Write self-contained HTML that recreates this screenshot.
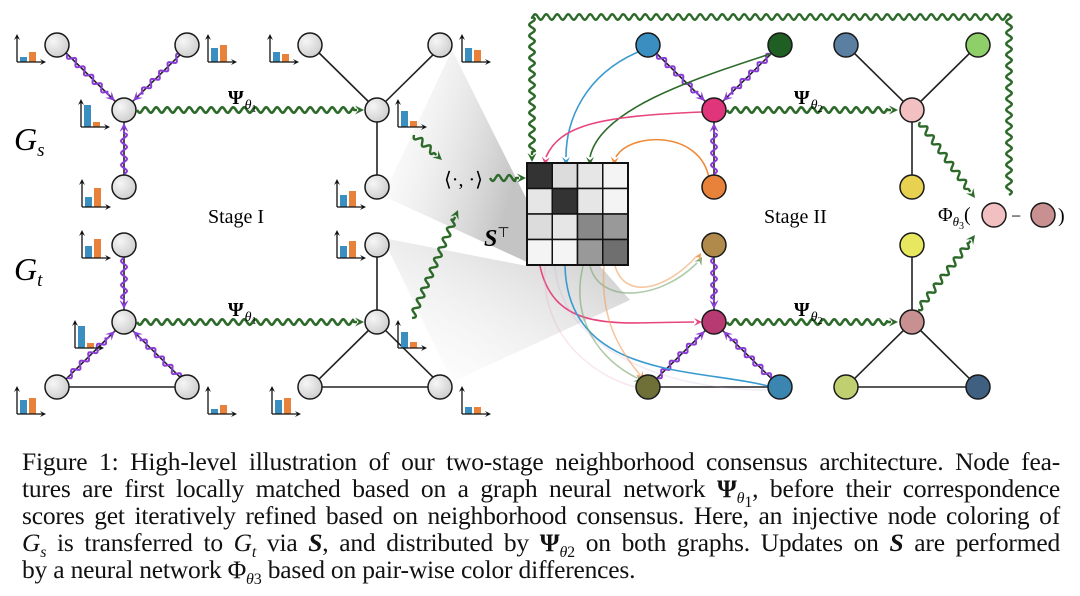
<!DOCTYPE html>
<html><head><meta charset="utf-8"><style>
html,body{margin:0;padding:0;background:#fff;}
#wrap{position:relative;width:1080px;height:596px;overflow:hidden;}
svg{position:absolute;left:0;top:0;}
.cap{position:absolute;left:22px;width:1038px;font-family:"Liberation Serif",serif;font-size:25.5px;line-height:27px;white-space:nowrap;color:#111;letter-spacing:-0.2px;}
.j{text-align:justify;text-align-last:justify;}
.cap i{font-style:italic;}
.cap b{font-weight:bold;font-style:italic;}
sub{font-size:16px;line-height:0;}
</style></head><body><div id="wrap">
<svg id="s" width="1080" height="430" viewBox="0 0 1080 430" xmlns="http://www.w3.org/2000/svg" font-family="Liberation Serif, serif">
<defs>
<radialGradient id="gn" cx="0.35" cy="0.35" r="0.8"><stop offset="0" stop-color="#f6f6f6"/><stop offset="1" stop-color="#c8c8c8"/></radialGradient>
<linearGradient id="w1" x1="0" y1="0" x2="1" y2="0.4"><stop offset="0" stop-color="#fff" stop-opacity="0.2"/><stop offset="1" stop-color="#c4c4c4"/></linearGradient>
<linearGradient id="w2" x1="0" y1="1" x2="1" y2="0"><stop offset="0" stop-color="#fff" stop-opacity="0.2"/><stop offset="1" stop-color="#c4c4c4"/></linearGradient>
</defs>
<polygon points="452,50 383,196 527,262 527,200" fill="url(#w1)"/>
<polygon points="383,238 452,382 630,300 600,266 527,266" fill="url(#w2)"/>
<g id="g"></g>
</svg>
<div class="cap j" style="top:448px">Figure 1: High-level illustration of our two-stage neighborhood consensus architecture. Node fea-</div>
<div class="cap j" style="top:475px">tures are first locally matched based on a graph neural network <b style="font-style:normal">Ψ</b><sub><i>θ</i><sub>1</sub></sub>, before their correspondence</div>
<div class="cap j" style="top:502px">scores get iteratively refined based on neighborhood consensus. Here, an injective node coloring of</div>
<div class="cap j" style="top:529px"><i>G<sub>s</sub></i> is transferred to <i>G<sub>t</sub></i> via <b>S</b>, and distributed by <b style="font-style:normal">Ψ</b><sub><i>θ</i>2</sub> on both graphs. Updates on <b>S</b> are performed</div>
<div class="cap" style="top:556px">by a neural network Φ<sub><i>θ</i>3</sub> based on pair-wise color differences.</div>
</div>
<script>
var G=document.getElementById('g'),h='';
function L(a,b,c,d,col,w){h+=`<line x1="${a}" y1="${b}" x2="${c}" y2="${d}" stroke="${col||'#222'}" stroke-width="${w||1.6}"/>`;}
function head(x,y,dx,dy,col,s){var n=Math.hypot(dx,dy);dx/=n;dy/=n;var px=-dy,py=dx;
h+=`<polygon points="${x},${y} ${x-dx*s+px*s*0.5},${y-dy*s+py*s*0.5} ${x-dx*s*0.6},${y-dy*s*0.6} ${x-dx*s-px*s*0.5},${y-dy*s-py*s*0.5}" fill="${col}"/>`;}
function wave(pts,col,w,amp,per){var d='',segs=[];for(var i=0;i<pts.length-1;i++){var a=pts[i],b=pts[i+1];var l=Math.hypot(b[0]-a[0],b[1]-a[1]);segs.push([a,b,l]);}
var acc=0,first=true;segs.forEach(function(sg,k){var a=sg[0],b=sg[1],l=sg[2];var ux=(b[0]-a[0])/l,uy=(b[1]-a[1])/l;var end=(k==segs.length-1)?l-7:l;
for(var t=0;t<=end;t+=1){var s=acc+t;var o=(k==segs.length-1&&t>end-4)?0:amp*Math.sin(2*Math.PI*s/per);var x=a[0]+ux*t-uy*o,y=a[1]+uy*t+ux*o;d+=(first?'M':'L')+x.toFixed(1)+','+y.toFixed(1);first=false;}acc+=l;});
h+=`<path d="${d}" fill="none" stroke="${col}" stroke-width="${w}" stroke-linejoin="round"/>`;var a=pts[pts.length-2],b=pts[pts.length-1];head(b[0],b[1],b[0]-a[0],b[1]-a[1],col,9);}
function wv(x1,y1,x2,y2,col,w){var dx=x2-x1,dy=y2-y1,n=Math.hypot(dx,dy);wave([[x1+dx/n*13,y1+dy/n*13],[x2-dx/n*13,y2-dy/n*13]],col,w,3,12);}
function N(x,y,f){h+=`<circle cx="${x}" cy="${y}" r="12" fill="${f||'url(#gn)'}" stroke="#1a1a1a" stroke-width="1.5"/>`;}
function bars(x,y,b,o){h+=`<rect x="${x+3}" y="${y-b}" width="7" height="${b}" fill="#3a8fc0"/><rect x="${x+12}" y="${y-o}" width="7" height="${o}" fill="#e8823a"/>`;
L(x,y,x+27,y,'#111',1.3);L(x,y,x,y-26,'#111',1.3);head(x+29,y,1,0,'#111',6);head(x,y-28,0,-1,'#111',6);}
function graph(cx){L(cx-66,45,cx,110);L(cx+66,45,cx,110);L(cx,110,cx,187);L(cx,245,cx,322);L(cx,322,cx-66,387);L(cx,322,cx+66,387);L(cx-66,387,cx+66,387);}
var P='#8a3cd6',GR='#2d6a2a';
[124,377,714,912].forEach(function(c){graph(c);});
[124,714].forEach(function(c){wv(c-66,45,c,110,P,2);wv(c+66,45,c,110,P,2);wv(c,187,c,110,P,2);wv(c,245,c,322,P,2);wv(c-66,387,c,322,P,2);wv(c+66,387,c,322,P,2);});
function cv(d,col,op,hx,hy,dx,dy){h+=`<path d="${d}" fill="none" stroke="${col}" stroke-width="1.6" opacity="${op||1}"/>`;if(hx)head(hx,hy,dx,dy,col,8);}
cv('M638,52 C585,75 566,120 566,157','#3a9ad0',1,566,165,0,1);
cv('M770,54 C690,80 600,110 590,157','#2d6a2a',1,590,165,0,1);
cv('M702,112 C600,116 560,125 546,157','#e8457f',1,545,165,-0.1,1);
cv('M709,178 C700,130 630,132 616,157','#ee8a3a',1,614,165,-0.1,1);
cv('M540,266 C555,335 620,322 694,322','#e8457f',1,702,322,1,0);
cv('M565,266 C568,380 700,368 768,386','#3a9ad0',1);
cv('M590,266 C600,305 660,300 697,263','#7aa870',0.6,702,257,0.6,-1);
cv('M615,266 C625,300 665,290 695,258','#f0a060',0.6,701,253,0.6,-1);
cv('M583,266 C570,320 600,360 637,378','#7aa870',0.6,642,382,1,0.6);
cv('M604,266 C600,320 620,350 640,375','#f0a060',0.6,643,380,0.5,1);
cv('M545,266 C540,340 600,380 640,388','#e8a0c0',0.25);
cv('M555,266 C560,340 650,390 768,390','#c0a0d0',0.2);
[[57,45],[187,45],[124,110],[124,187],[124,245],[124,322],[57,387],[187,387]].forEach(function(p){N(p[0],p[1]);N(p[0]+253,p[1]);});
var c2=[['#3a8fc0',648,45],['#1f5f23',780,45],['#e0357a',714,110],['#e8823a',714,187],['#b08a4a',714,245],['#b83a73',714,322],['#6e7038',648,387],['#3a86b0',780,387],
['#5a7fa0',846,45],['#8fcf6a',978,45],['#f2c0c0',912,110],['#e8d050',912,187],['#e8e860',912,245],['#c89090',912,322],['#c0d070',846,387],['#3f6080',978,387]];
c2.forEach(function(a){N(a[1],a[2],a[0]);});
[[17,62,5,10],[208,62,14,17],[81,127,22,5],[82,207,10,19],[82,258,12,19],[75,348,22,5],[17,414,14,16],[208,414,5,9],
[270,62,10,8],[462,62,14,12],[398,127,16,6],[337,207,12,16],[337,258,12,17],[398,348,16,6],[272,414,14,16],[462,414,7,7]].forEach(function(b){bars(b[0],b[1],b[2],b[3]);});
wave([[137,110],[364,110]],GR,2.6,2.8,11);
wave([[137,322],[364,322]],GR,2.6,2.8,11);
wave([[414,135],[442,160]],GR,2.4,3,11);
wave([[412,318],[458,210]],GR,2.4,3,11);
wave([[490,178],[526,178]],GR,2.4,3,11);
wave([[727,110],[898,110]],GR,2.6,2.8,11);
wave([[727,322],[898,322]],GR,2.6,2.8,11);
wave([[920,122],[975,198]],GR,2.4,3,11);
wave([[918,310],[975,235]],GR,2.4,3,11);
wave([[1009,195],[1009,17],[532,17],[532,162]],GR,2.4,2.8,11);
var M=[['#333','#dcdcdc','#e6e6e6','#f4f4f4'],['#e6e6e6','#333','#e6e6e6','#f4f4f4'],['#dcdcdc','#e6e6e6','#888','#999'],['#f4f4f4','#f4f4f4','#999','#6f6f6f']];
for(var r=0;r<4;r++)for(var c=0;c<4;c++)h+=`<rect x="${527+c*25.25}" y="${163+r*25.5}" width="25.25" height="25.5" fill="${M[r][c]}" stroke="#111" stroke-width="1.5"/>`;
h+=`<rect x="527" y="163" width="101" height="102" fill="none" stroke="#111" stroke-width="2"/>`;
function T(x,y,s,sz,ex){h+=`<text x="${x}" y="${y}" font-size="${sz}" ${ex||''}>${s}</text>`;}
var psi=function(n){return '<tspan font-weight="bold">Ψ</tspan><tspan font-style="italic" font-size="14" dy="5" dx="1">θ</tspan><tspan font-size="10" dy="3">'+n+'</tspan>';};
T(228,104,psi(1),20);T(228,316,psi(1),20);T(794,104,psi(2),20);T(794,316,psi(2),20);
T(208,223,'Stage I',20);T(764,223,'Stage II',20);
T(14,150,'<tspan font-style="italic">G</tspan><tspan font-style="italic" font-size="19" dy="6">s</tspan>',32);
T(14,280,'<tspan font-style="italic">G</tspan><tspan font-style="italic" font-size="19" dy="6">t</tspan>',32);
T(444,186,'⟨·, ·⟩',20);
T(484,246,'<tspan font-weight="bold" font-style="italic">S</tspan><tspan font-size="14" dy="-9">⊤</tspan>',24);
T(938,221,'Φ<tspan font-style="italic" font-size="13" dy="5">θ</tspan><tspan font-size="10" dy="3">3</tspan><tspan dy="-8">(</tspan>',20);
h+=`<circle cx="994" cy="215" r="12" fill="#f2c0c0" stroke="#1a1a1a" stroke-width="1.5"/><circle cx="1043" cy="215" r="12" fill="#c89090" stroke="#1a1a1a" stroke-width="1.5"/>`;
T(1011,222,'−',18);T(1058,222,')',20);
G.innerHTML=h;
</script>
</body></html>
